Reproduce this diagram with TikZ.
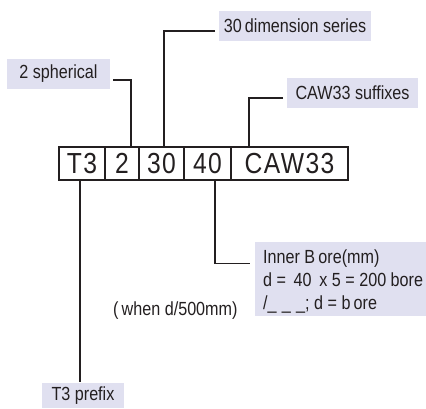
\documentclass[tikz,border=0pt]{standalone}
\usepackage{fontspec}
\setmainfont[FakeStretch=0.85]{Liberation Sans}
\newfontfamily\cellfont[FakeStretch=0.85,LetterSpace=5]{Liberation Sans}
\definecolor{ink}{RGB}{35,31,32}
\definecolor{tagfill}{RGB}{224,224,240}
\tikzset{
  codecell/.style={draw=ink, line width=1.5pt, minimum height=33pt, inner sep=0pt,
    text=ink, font=\cellfont\fontsize{29}{29}\selectfont},
  tag/.style={fill=tagfill, inner sep=0pt, text=ink, font=\fontsize{19}{23}\selectfont},
  plain/.style={inner sep=0pt, text=ink, font=\fontsize{19}{23}\selectfont},
  lead/.style={draw=ink, line width=1.6pt}
}
\begin{document}
\begin{tikzpicture}[x=1pt, y=-1pt]
\useasboundingbox (0,0) rectangle (426,408);

% designation cells
\node[codecell, minimum width=46pt] (cT3) at (82,163.5) {T3};
\node[codecell, minimum width=34pt] (c2) at (122,163.5) {2};
\node[codecell, minimum width=45pt] (c30) at (161.5,163.5) {30};
\node[codecell, minimum width=47pt] (c40) at (207.5,163.5) {40};
\node[codecell, minimum width=117pt] (cCAW) at (289.5,163.5) {CAW33};

% explanation tags
\node[tag, minimum width=103pt, minimum height=30pt] (sph) at (58.5,74) {2 spherical};
\node[tag, minimum width=152pt, minimum height=30pt] (dim) at (295,26) {30\,dimension series};
\node[tag, minimum width=131pt, minimum height=30pt] (suf) at (352.5,93) {CAW33 suffixes};
\node[tag, minimum width=171pt, minimum height=74pt] (bore) at (340.5,279) {};
\node[plain, anchor=north west, align=left] (boretxt) at (263,250)
  {Inner B\,ore(mm)\\d =\, 40\, x 5 = 200 bore\\/\_\;\_\;\_; d = b\,ore};
\node[plain, anchor=base west] (when) at (113,315) {(\,when d/500mm)};
\node[tag, minimum width=82pt, minimum height=25pt] (pre) at (83,395.5) {T3 prefix};

% leader lines
\coordinate (sphEnd) at (113,80);
\coordinate (dimEnd) at (215,30.7);
\coordinate (sufEnd) at (283,97.7);
\coordinate (boreEnd) at (250,263.3);
\coordinate (preEnd) at (80,381.5);

\draw[lead] (sphEnd) -| ([xshift=9pt]c2.north);
\draw[lead] (dimEnd) -| ([xshift=2.5pt]c30.north);
\draw[lead] (sufEnd) -| ([xshift=-40.5pt]cCAW.north);
\draw[lead] ([xshift=7.5pt]c40.south) |- (boreEnd);
\draw[lead] ([xshift=-2pt]cT3.south) -- (preEnd);
\end{tikzpicture}
\end{document}
